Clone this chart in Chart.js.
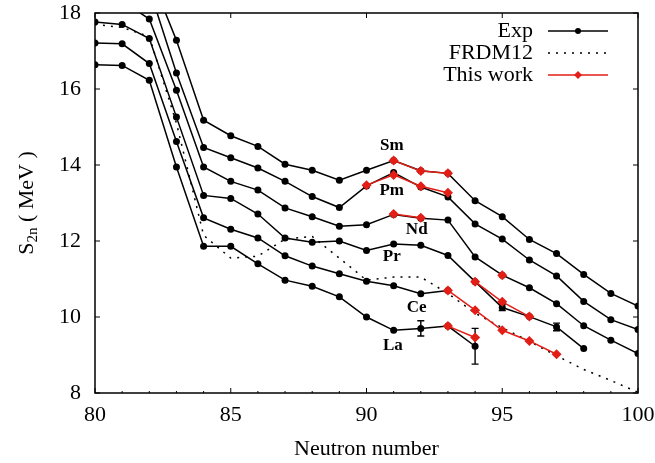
<!DOCTYPE html>
<html>
<head>
<meta charset="utf-8">
<script src="https://cdn.jsdelivr.net/npm/chart.js"></script>
<style>
  html, body { margin: 0; padding: 0; background: #fff; }
  #c { display: block; }
</style>
</head>
<body>
<canvas id="c" width="655" height="463"></canvas>
<script>
// S2n values, one entry per neutron number (null = no point)
const neutrons = [80, 81, 82, 83, 84, 85, 86, 87, 88, 89, 90, 91, 92, 93, 94, 95, 96, 97, 98, 99, 100];

const expLa = [16.64, 16.62, 16.23, 13.95, 11.86, 11.86, 11.40, 10.97, 10.81, 10.53, 10.00, 9.65, 9.70, 9.76, 9.23, null, null, null, null, null, null];
const expCe = [17.21, 17.19, 16.67, 14.62, 12.61, 12.31, 12.08, 11.61, 11.34, 11.14, 10.94, 10.82, 10.61, 10.70, null, null, null, null, null, null, null];
const expPr = [17.76, 17.70, 17.33, 15.26, 13.20, 13.12, 12.71, 12.08, 11.97, 12.00, 11.75, 11.92, 11.89, 11.62, 10.93, 10.25, 10.01, 9.74, 9.17, null, null];
const expNd = [null, 18.32, 17.84, 15.97, 13.95, 13.57, 13.34, 12.87, 12.64, 12.39, 12.43, 12.70, 12.60, 12.55, 11.58, 11.10, 10.77, 10.35, 9.77, 9.39, 9.04];
const expPm = [null, null, 18.64, 16.42, 14.46, 14.19, 13.92, 13.57, 13.17, 12.88, 13.45, 13.80, 13.42, 13.16, 12.45, 12.05, 11.50, 11.08, 10.41, 9.93, 9.67];
const expSm = [null, null, 19.06, 17.28, 15.18, 14.77, 14.49, 14.02, 13.86, 13.60, 13.86, 14.12, 13.85, 13.78, 13.06, 12.64, 12.04, 11.67, 11.12, 10.62, 10.29];

const workLa = [null, null, null, null, null, null, null, null, null, null, null, null, null, 9.76, 9.46, null, null, null, null, null, null];
const workCe = [null, null, null, null, null, null, null, null, null, null, null, null, null, 10.70, 10.18, 9.65, 9.37, 9.02, null, null, null];
const workPr = [null, null, null, null, null, null, null, null, null, null, null, null, null, null, 10.93, 10.40, 10.01, null, null, null, null];
const workNd = [null, null, null, null, null, null, null, null, null, null, null, 12.71, 12.61, null, null, 11.10, null, null, null, null, null];
const workPm = [null, null, null, null, null, null, null, null, null, null, 13.47, 13.74, 13.44, 13.27, null, null, null, null, null, null, null];
const workSm = [null, null, null, null, null, null, null, null, null, null, null, 14.12, 13.84, 13.78, null, null, null, null, null, null, null];

const frdm12 = [17.70, 17.62, 17.38, 15.10, 12.15, 11.55, 11.60, 12.05, 12.12, 11.55, 10.97, 11.05, 11.05, 10.62, 10.10, 9.72, 9.36, 8.98, 8.62, 8.33, 8.02];

// experimental error bars
const errN = [92, 94, 95, 97];
const errVal = [9.70, 9.23, 10.25, 9.74];
const errSize = [0.20, 0.47, 0.08, 0.10];

const yTicks = [8, 10, 12, 14, 16, 18];
const xTicks = [80, 85, 90, 95, 100];

const elemNames = ['Sm', 'Pm', 'Nd', 'Pr', 'Ce', 'La'];

const SERIF = '"Liberation Serif", "Times New Roman", serif';
const RED = 'rgb(226, 30, 22)';

// where the element names sit (data coords)
const elemSpots = [[90.93, 14.50], [90.93, 13.33], [91.85, 12.29], [90.93, 11.58], [91.85, 10.26], [90.97, 9.25]];

function points(vals) {
  return neutrons.map((n, i) => ({ x: n, y: vals[i] }));
}

function expSet(vals) {
  return {
    data: points(vals), order: 1,
    borderColor: '#000', backgroundColor: '#000', borderWidth: 1.5,
    pointRadius: 3.5, pointStyle: 'circle', pointBorderWidth: 0
  };
}

function workSet(vals) {
  return {
    data: points(vals), order: 0,
    borderColor: RED, backgroundColor: RED, borderWidth: 1.5,
    pointRadius: 5, pointStyle: 'rectRot', pointBorderWidth: 0
  };
}

const datasets = [
  { data: points(frdm12), order: 2, borderColor: '#000', borderWidth: 1.5, borderDash: [2, 6], pointRadius: 0 },
  expSet(expLa), expSet(expCe), expSet(expPr), expSet(expNd), expSet(expPm), expSet(expSm),
  workSet(workLa), workSet(workCe), workSet(workPr), workSet(workNd), workSet(workPm), workSet(workSm)
];

const decor = {
  id: 'decor',
  beforeDatasetsDraw(chart) {
    const { ctx, scales: { x, y } } = chart;
    ctx.save();
    ctx.strokeStyle = '#000';
    ctx.lineWidth = 1.4;
    ctx.beginPath();
    errN.forEach((n, i) => {
      const px = x.getPixelForValue(n);
      const top = y.getPixelForValue(errVal[i] + errSize[i]);
      const bot = y.getPixelForValue(errVal[i] - errSize[i]);
      ctx.moveTo(px, top); ctx.lineTo(px, bot);
      ctx.moveTo(px - 3.5, top); ctx.lineTo(px + 3.5, top);
      ctx.moveTo(px - 3.5, bot); ctx.lineTo(px + 3.5, bot);
    });
    ctx.stroke();
    ctx.restore();
  },
  afterDatasetsDraw(chart) {
    const { ctx, chartArea: a, scales: { x, y } } = chart;
    ctx.save();

    // frame + inward ticks on all sides
    ctx.strokeStyle = '#000';
    ctx.lineWidth = 1.5;
    ctx.strokeRect(a.left, a.top, a.right - a.left, a.bottom - a.top);
    ctx.lineWidth = 1;
    ctx.beginPath();
    neutrons.forEach(n => {
      const px = x.getPixelForValue(n);
      const major = xTicks.includes(n);
      ctx.moveTo(px, a.bottom); ctx.lineTo(px, a.bottom - (major ? 5 : 2));
      if (major) { ctx.moveTo(px, a.top); ctx.lineTo(px, a.top + 5); }
    });
    yTicks.forEach(v => {
      const py = y.getPixelForValue(v);
      ctx.moveTo(a.left, py); ctx.lineTo(a.left + 5, py);
      ctx.moveTo(a.right, py); ctx.lineTo(a.right - 5, py);
    });
    ctx.stroke();

    // tick labels
    ctx.fillStyle = '#000';
    ctx.font = '22px ' + SERIF;
    ctx.textBaseline = 'middle';
    ctx.textAlign = 'right';
    yTicks.forEach(v => ctx.fillText(String(v), a.left - 14, y.getPixelForValue(v)));
    ctx.textAlign = 'center';
    xTicks.forEach(v => ctx.fillText(String(v), x.getPixelForValue(v), a.bottom + 22));

    // element names
    ctx.font = 'bold 17px ' + SERIF;
    elemNames.forEach((name, i) => {
      ctx.fillText(name, x.getPixelForValue(elemSpots[i][0]), y.getPixelForValue(elemSpots[i][1]));
    });

    // legend
    const rows = [
      { text: 'Exp', color: '#000', dash: [], marker: 'dot' },
      { text: 'FRDM12', color: '#000', dash: [2, 6], marker: null },
      { text: 'This work', color: RED, dash: [], marker: 'diamond' }
    ];
    ctx.font = '22px ' + SERIF;
    ctx.textAlign = 'right';
    rows.forEach((r, i) => {
      const ly = 31 + i * 22;
      ctx.fillStyle = '#000';
      ctx.fillText(r.text, 533, ly);
      ctx.strokeStyle = r.color;
      ctx.lineWidth = 1.5;
      ctx.setLineDash(r.dash);
      ctx.beginPath();
      ctx.moveTo(548, ly); ctx.lineTo(608, ly);
      ctx.stroke();
      ctx.setLineDash([]);
      ctx.fillStyle = r.color;
      if (r.marker === 'dot') {
        ctx.beginPath(); ctx.arc(578, ly, 3, 0, Math.PI * 2); ctx.fill();
      } else if (r.marker === 'diamond') {
        ctx.beginPath();
        ctx.moveTo(578, ly - 4); ctx.lineTo(582, ly); ctx.lineTo(578, ly + 4); ctx.lineTo(574, ly);
        ctx.closePath(); ctx.fill();
      }
    });

    // axis titles
    ctx.fillStyle = '#000';
    ctx.textAlign = 'center';
    ctx.font = '22px ' + SERIF;
    ctx.fillText('Neutron number', (a.left + a.right) / 2, 449);

    ctx.save();
    ctx.translate(27, (a.top + a.bottom) / 2);
    ctx.rotate(-Math.PI / 2);
    ctx.textAlign = 'left';
    const big = '22px ' + SERIF, small = '15px ' + SERIF;
    ctx.font = big; const wS = ctx.measureText('S').width;
    ctx.font = small; const wSub = ctx.measureText('2n').width;
    ctx.font = big; const wRest = ctx.measureText(' ( MeV )').width;
    let cx = -(wS + wSub + wRest) / 2;
    ctx.font = big; ctx.fillText('S', cx, 0); cx += wS;
    ctx.font = small; ctx.fillText('2n', cx, 6); cx += wSub;
    ctx.font = big; ctx.fillText(' ( MeV )', cx, 0);
    ctx.restore();

    ctx.restore();
  }
};

new Chart(document.getElementById('c'), {
  type: 'line',
  data: { datasets },
  options: {
    responsive: false,
    animation: false,
    devicePixelRatio: 1,
    spanGaps: false,
    layout: { padding: { top: 13, right: 17, left: 0, bottom: 0 } },
    plugins: { legend: { display: false }, tooltip: { enabled: false } },
    scales: {
      x: {
        type: 'linear', min: 80, max: 100,
        afterFit: s => { s.height = 70; },
        grid: { display: false, drawTicks: false },
        border: { display: false },
        ticks: { display: false }
      },
      y: {
        type: 'linear', min: 8, max: 18,
        afterFit: s => { s.width = 95; },
        grid: { display: false, drawTicks: false },
        border: { display: false },
        ticks: { display: false }
      }
    }
  },
  plugins: [decor]
});
</script>
</body>
</html>
